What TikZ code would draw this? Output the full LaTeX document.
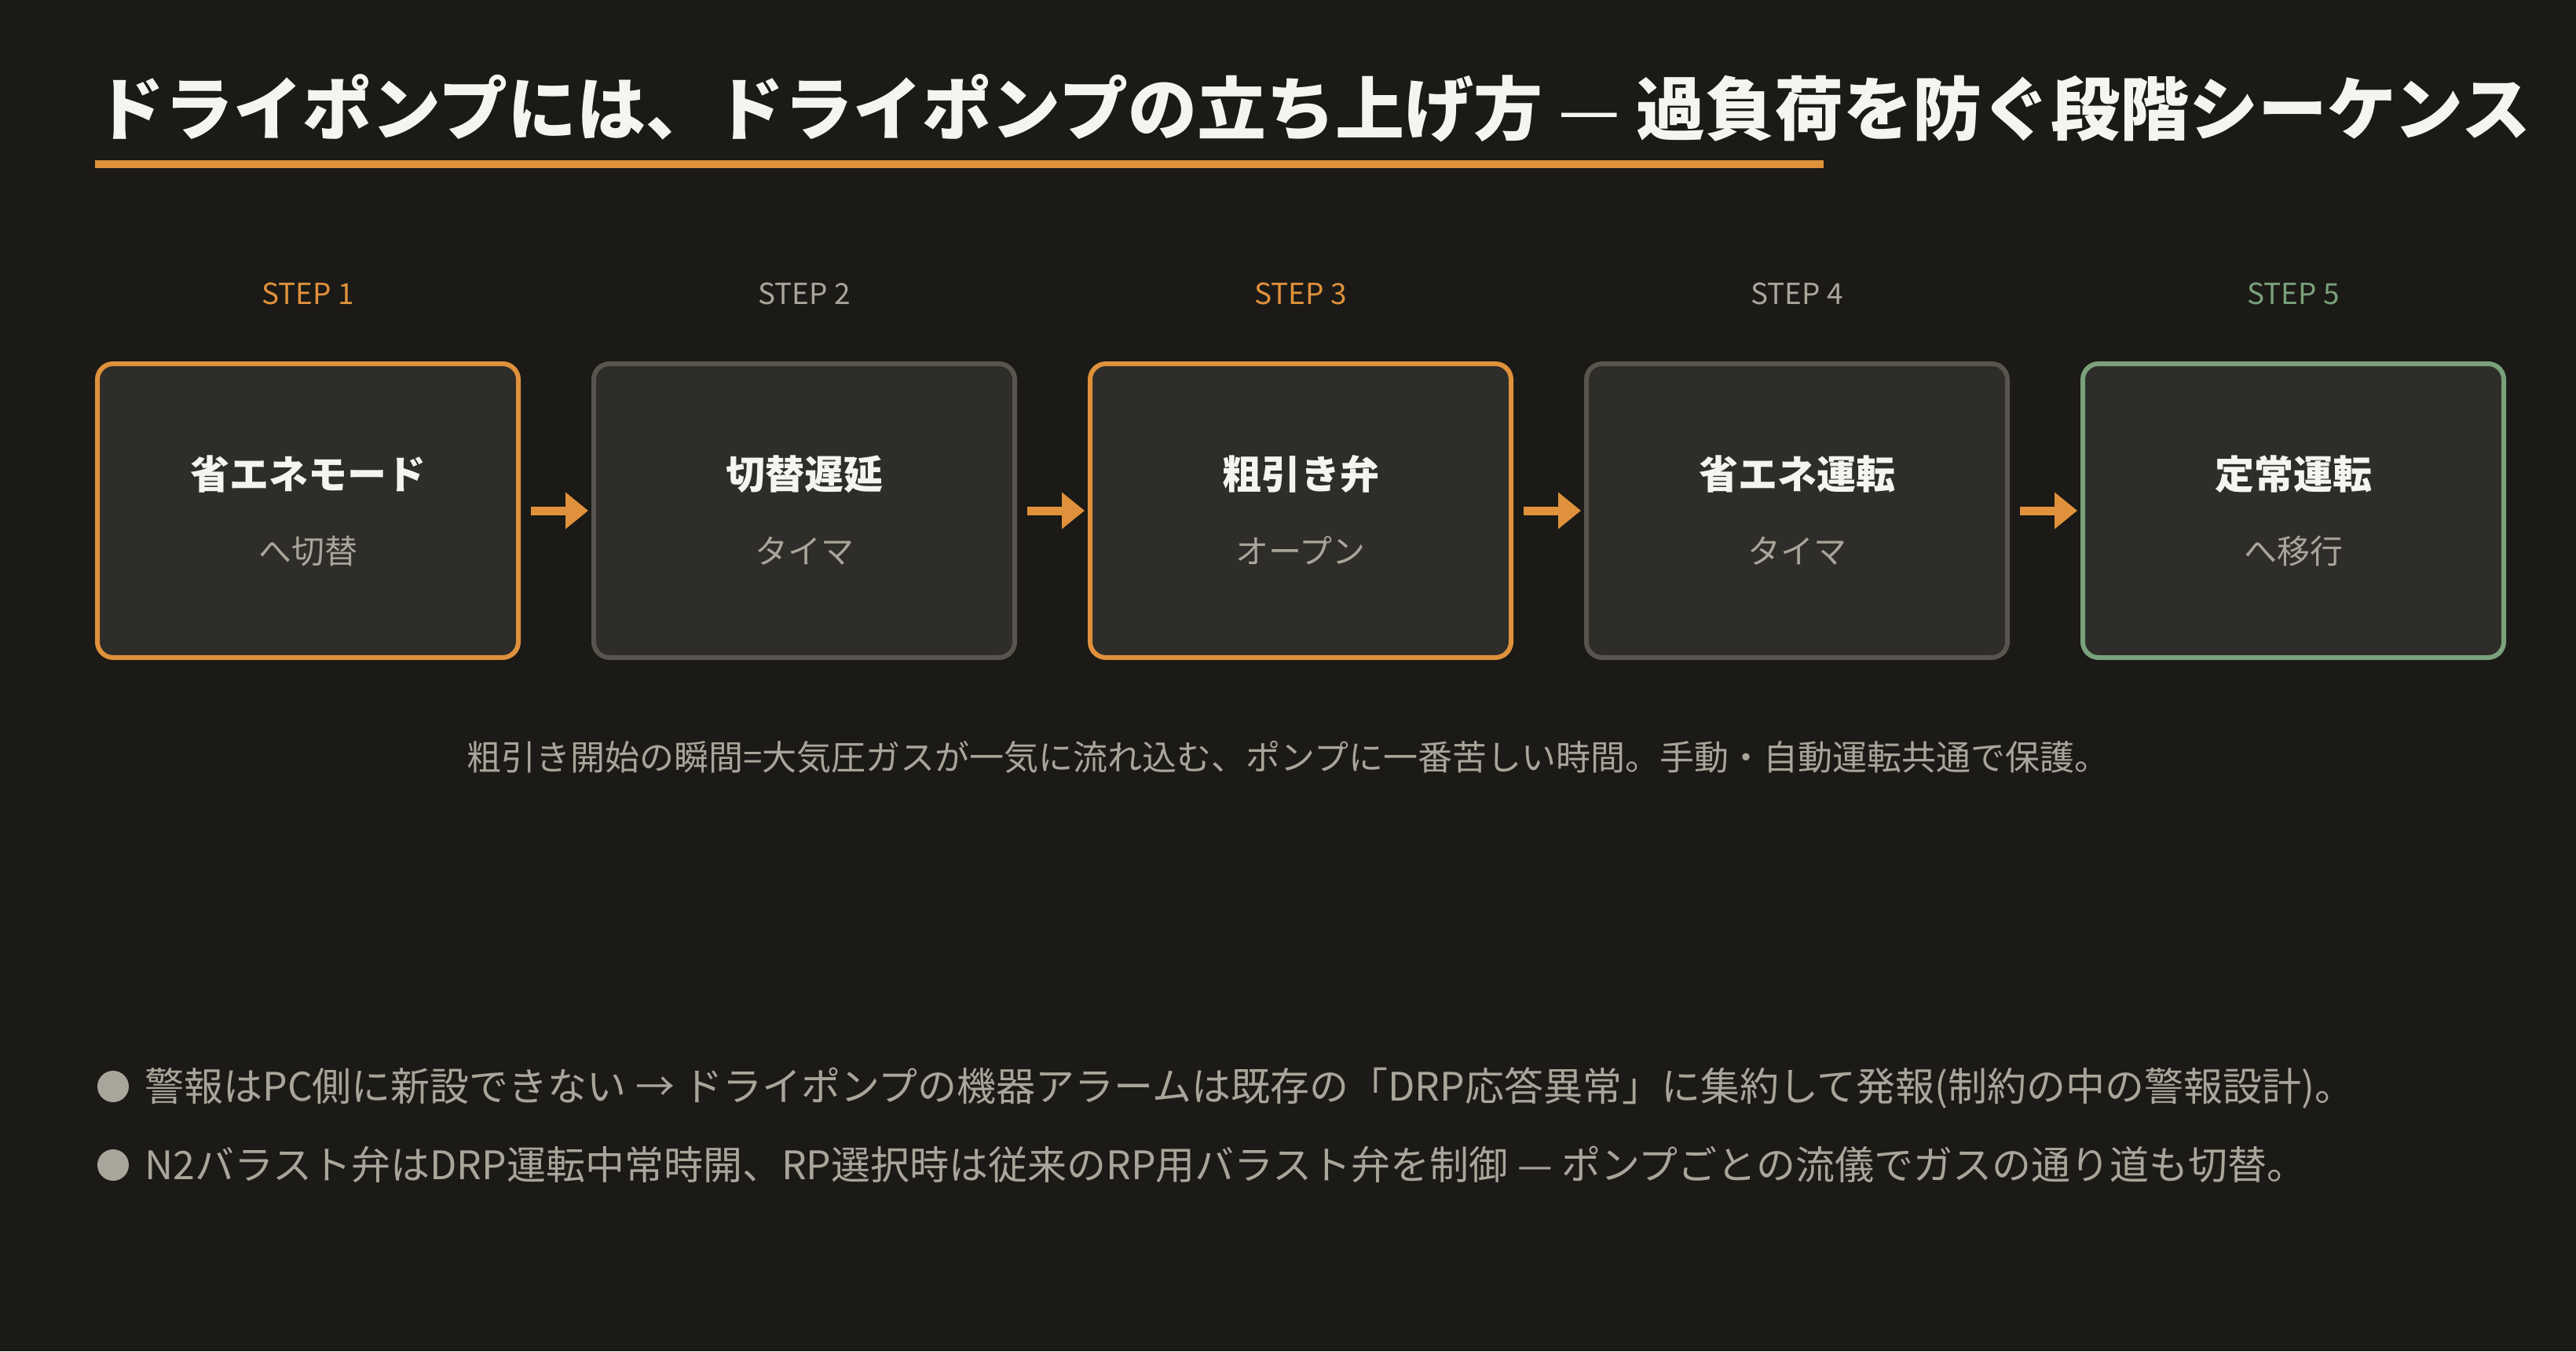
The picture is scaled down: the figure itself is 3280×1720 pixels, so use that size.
\documentclass[tikz,border=0pt]{standalone}
\usepackage{fontspec}
\setmainfont{Noto Sans CJK JP}
\usetikzlibrary{arrows.meta}
\definecolor{bgc}{HTML}{1B1A16}
\definecolor{boxfill}{HTML}{2E2D29}
\definecolor{grayline}{HTML}{58544E}
\definecolor{orangec}{HTML}{E0913C}
\definecolor{greenc}{HTML}{7AA17C}
\definecolor{whitec}{HTML}{F5F4EE}
\definecolor{grayt}{HTML}{A9A59B}
\tikzset{
  stepbox/.style={rectangle, fill=boxfill, line width=3pt, rounded corners=10pt,
    minimum width=268pt, minimum height=187pt, inner sep=0pt},
  steplabel/.style={anchor=base, inner sep=0pt, font=\fontsize{18.5}{22}\selectfont},
  boxtitle/.style={anchor=base, inner sep=0pt, text=whitec, font=\bfseries\fontsize{25}{30}\selectfont},
  boxsub/.style={anchor=base, inner sep=0pt, text=grayt, font=\fontsize{21}{25}\selectfont},
  flowarrow/.style={draw=orangec, line width=5.5pt, -{Triangle[length=14.5pt,width=22.5pt]},
    shorten <=6.5pt, shorten >=2pt},
  bodytext/.style={inner sep=0pt, text=grayt, font=\fontsize{25}{30}\selectfont},
  bulletdot/.style={circle, fill=grayt, minimum size=20pt, inner sep=0pt}
}
\begin{document}
\begin{tikzpicture}[x=0.5pt,y=-0.5pt]
\fill[bgc] (0,0) rectangle (3280,1720);
\useasboundingbox (0,0) rectangle (3280,1720);

\node[anchor=base west, inner sep=0pt, text=whitec, font=\bfseries\fontsize{44}{50}\selectfont] (title) at (121,171)
  {ドライポンプには、ドライポンプの立ち上げ方 {\mdseries —} 過負荷を防ぐ段階シーケンス};
\fill[orangec] (121,204) rectangle (2322,214);

% step labels
\node[steplabel, text=orangec] (l1) at (392,387) {STEP 1};
\node[steplabel, text=grayt] (l2) at (1024,387) {STEP 2};
\node[steplabel, text=orangec] (l3) at (1656,387) {STEP 3};
\node[steplabel, text=grayt] (l4) at (2288,387) {STEP 4};
\node[steplabel, text=greenc] (l5) at (2920,387) {STEP 5};

% boxes
\node[stepbox, draw=orangec] (b1) at (392,650) {};
\node[stepbox, draw=grayline] (b2) at (1024,650) {};
\node[stepbox, draw=orangec] (b3) at (1656,650) {};
\node[stepbox, draw=grayline] (b4) at (2288,650) {};
\node[stepbox, draw=greenc] (b5) at (2920,650) {};

\node[boxtitle] (t1) at (392,622) {省エネモード};
\node[boxsub] (s1) at (392,717) {へ切替};
\node[boxtitle] (t2) at (1024,622) {切替遅延};
\node[boxsub] (s2) at (1024,717) {タイマ};
\node[boxtitle] (t3) at (1656,622) {粗引き弁};
\node[boxsub] (s3) at (1656,717) {オープン};
\node[boxtitle] (t4) at (2288,622) {省エネ運転};
\node[boxsub] (s4) at (2288,717) {タイマ};
\node[boxtitle] (t5) at (2920,622) {定常運転};
\node[boxsub] (s5) at (2920,717) {へ移行};

\draw[flowarrow] (b1) -- (b2);
\draw[flowarrow] (b2) -- (b3);
\draw[flowarrow] (b3) -- (b4);
\draw[flowarrow] (b4) -- (b5);

\node[bodytext, anchor=base, font=\fontsize{22}{26}\selectfont] (cap) at (1640,980)
  {粗引き開始の瞬間=大気圧ガスが一気に流れ込む、ポンプに一番苦しい時間。手動・自動運転共通で保護。};

\node[bulletdot] (d1) at (144,1383) {};
\node[bodytext, anchor=base west] (n1) at (184,1401)
  {警報はPC側に新設できない → ドライポンプの機器アラームは既存の「DRP応答異常」に集約して発報(制約の中の警報設計)。};
\node[bulletdot] (d2) at (144,1483) {};
\node[bodytext, anchor=base west] (n2) at (184,1501)
  {N2バラスト弁はDRP運転中常時開、RP選択時は従来のRP用バラスト弁を制御 — ポンプごとの流儀でガスの通り道も切替。};
\end{tikzpicture}
\end{document}
